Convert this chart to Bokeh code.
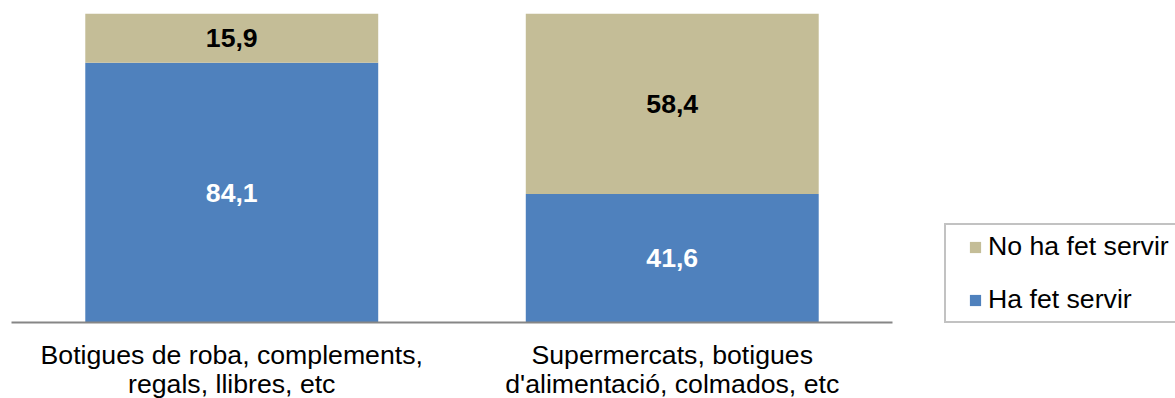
from bokeh.plotting import figure
from bokeh.models import ColumnDataSource, Range1d, FactorRange, Legend, LegendItem
from bokeh.core.properties import value
from bokeh.embed import file_html
from bokeh.resources import INLINE

categories = ["Botigues de roba, complements,\nregals, llibres, etc",
              "Supermercats, botigues\nd'alimentació, colmados, etc"]
ha_fet_servir = [84.1, 41.6]
no_ha_fet_servir = [15.9, 58.4]
series_names = ["Ha fet servir", "No ha fet servir"]
colors = ["#4F81BD", "#C4BD97"]

FONT = "Liberation Sans"
FS = "26.67px"

src = ColumnDataSource(dict(cat=categories, ha=ha_fet_servir, no=no_ha_fet_servir))

p = figure(x_range=FactorRange(*categories, range_padding=0), y_range=Range1d(0, 100),
           frame_width=881, frame_height=309, min_border_left=11, min_border_top=13,
           min_border_right=283, min_border_bottom=0,
           output_backend="svg", toolbar_location=None, outline_line_color=None)

rs = p.vbar_stack(["ha", "no"], x="cat", width=0.665, source=src, color=colors,
                  line_color=None)

# data labels
mid_ha = [v / 2 for v in ha_fet_servir]
mid_no = [a + b / 2 for a, b in zip(ha_fet_servir, no_ha_fet_servir)]
fmt = lambda v: f"{v:.1f}".replace(".", ",")
lab = ColumnDataSource(dict(
    x=categories + categories,
    y=mid_ha + mid_no,
    t=[fmt(v) for v in ha_fet_servir] + [fmt(v) for v in no_ha_fet_servir],
    c=["white"] * len(categories) + ["black"] * len(categories)))
p.text(x="x", y="y", text="t", source=lab, text_color="c", text_align="center",
       text_baseline="middle", text_font=value(FONT), text_font_size=FS,
       text_font_style="bold")

p.xgrid.visible = False
p.ygrid.visible = False
p.yaxis.visible = False
ax = p.xaxis[0]
ax.axis_line_color = "#868686"
ax.axis_line_width = 2
ax.major_tick_line_color = None
ax.minor_tick_line_color = None
ax.major_label_standoff = 11
ax.major_label_text_font = FONT
ax.major_label_text_font_size = FS
ax.major_label_text_color = "black"
ax.major_label_text_line_height = 0.98

legend = Legend(items=[LegendItem(label=series_names[1], renderers=[rs[1]]),
                       LegendItem(label=series_names[0], renderers=[rs[0]])],
                location=(52, -1), orientation="vertical",
                title=" ", title_location="left", title_text_font_size="1px",
                title_standoff=15,
                label_text_font=FONT, label_text_font_size=FS,
                label_text_color="black",
                glyph_width=14, glyph_height=14, label_height=26,
                spacing=22, padding=6, margin=0, label_standoff=6,
                border_line_color="#868686", border_line_width=2,
                background_fill_alpha=1)
p.add_layout(legend, "right")

open("out.html", "w").write(file_html(p, INLINE))
